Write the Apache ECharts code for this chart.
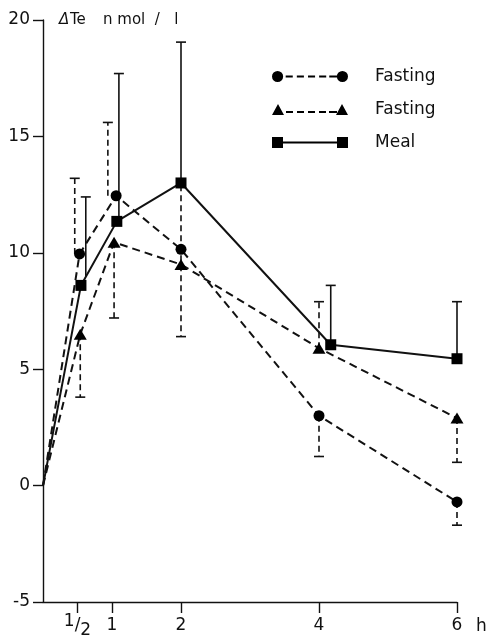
<!DOCTYPE html>
<html>
<head>
<meta charset="utf-8">
<script src="https://cdn.jsdelivr.net/npm/echarts@6/dist/echarts.min.js"></script>
<style>
html,body{margin:0;padding:0;background:#fff;}
#chart{width:488px;height:640px;}
</style>
</head>
<body>
<div id="chart"></div>
<script>
// ---- data (hours, nmol/l) ----
const xTickValues = [0.5, 1, 2, 4, 6];
const xTickLabels = ['1/2', '1', '2', '4', '6'];

const fast1X = [0, 0.53, 1.06, 2, 4, 6];
const fast1Y = [0, 9.95, 12.45, 10.15, 3.0, -0.7];
const fast1ErrX = [0.46, 0.94, 4, 6];
const fast1ErrFrom = [9.95, 12.45, 3.0, -0.7];
const fast1ErrTo = [13.2, 15.6, 1.25, -1.7];

const fast2X = [0, 0.54, 1.03, 2, 4, 6];
const fast2Y = [0, 6.5, 10.45, 9.5, 5.9, 2.9];
const fast2ErrX = [0.54, 1.03, 2, 4, 6];
const fast2ErrFrom = [6.5, 10.45, 12.9, 5.9, 2.9];
const fast2ErrTo = [3.8, 7.2, 6.4, 7.9, 1.0];

const mealX = [0, 0.55, 1.07, 2, 4.17, 6];
const mealY = [0, 8.6, 11.35, 13.0, 6.05, 5.45];
const mealErrX = [0.62, 1.1, 2, 4.17, 6];
const mealErrFrom = [9.0, 11.35, 13.0, 6.05, 5.45];
const mealErrTo = [12.4, 17.7, 19.05, 8.6, 7.9];

const seriesNames = ['Fasting', 'Fasting ', 'Meal'];

// ---- helpers ----
function pts(xs, ys) {
  return xs.map((x, i) => i === 0 ? { value: [x, ys[i]], symbol: 'none' } : [x, ys[i]]);
}
function errData(xs, from, to) {
  return xs.map((x, i) => [x, from[i], to[i]]);
}
function errSeries(data, dashed) {
  return {
    type: 'custom',
    data: data,
    z: 1,
    silent: true,
    encode: { x: 0, y: [1, 2] },
    renderItem: function (params, api) {
      const x = api.value(0);
      const p1 = api.coord([x, api.value(1)]);
      const p2 = api.coord([x, api.value(2)]);
      const cw = 5;
      return {
        type: 'group',
        children: [
          { type: 'line', shape: { x1: p1[0], y1: p1[1], x2: p2[0], y2: p2[1] },
            style: { stroke: '#111', lineWidth: 1.6, lineDash: dashed ? [6, 4] : null } },
          { type: 'line', shape: { x1: p2[0] - cw, y1: p2[1], x2: p2[0] + cw, y2: p2[1] },
            style: { stroke: '#111', lineWidth: 1.6 } }
        ]
      };
    }
  };
}

// legend icons (paths)
const dashes = 'M14,5 h7 v2 h-7 Z M25,5 h7 v2 h-7 Z M36,5 h7 v2 h-7 Z M47,5 h7 v2 h-7 Z M57,5 h8 v2 h-8 Z';
const iconCircle = 'path://M0.5,6 A5.5,5.5 0 1 1 11.5,6 A5.5,5.5 0 1 1 0.5,6 Z M64.5,6 A5.5,5.5 0 1 1 75.5,6 A5.5,5.5 0 1 1 64.5,6 Z ' + dashes;
const iconTri = 'path://M0,11.5 L6,0.5 L12,11.5 Z M64,11.5 L70,0.5 L76,11.5 Z M14,7.5 h7 v2 h-7 Z M25,7.5 h7 v2 h-7 Z M36,7.5 h7 v2 h-7 Z M47,7.5 h7 v2 h-7 Z M57,7.5 h8 v2 h-8 Z';
const iconSq = 'path://M0,0.5 h11 v11 h-11 Z M65,0.5 h11 v11 h-11 Z M11,5 h54 v2 h-54 Z';

const chart = echarts.init(document.getElementById('chart'), null, { renderer: 'canvas' });
const font = '"DejaVu Sans", sans-serif';

chart.setOption({
  animation: false,
  backgroundColor: '#fff',
  textStyle: { fontFamily: font, color: '#111' },
  grid: { left: 43, right: 31, top: 20, bottom: 38, outerBoundsMode: 'none', containLabel: false },
  legend: {
    orient: 'vertical',
    left: 267,
    top: 63,
    itemGap: 16,
    itemWidth: 76,
    itemHeight: 12,
    itemStyle: { borderWidth: 0, color: '#000' },
    textStyle: { fontFamily: font, fontSize: 17, color: '#111', padding: [0, 0, 0, 22] },
    formatter: n => n.trim(),
    selectedMode: false,
    data: [
      { name: seriesNames[0], icon: iconCircle },
      { name: seriesNames[1], icon: iconTri },
      { name: seriesNames[2], icon: iconSq }
    ]
  },
  xAxis: {
    type: 'value',
    min: 0,
    max: 6,
    splitLine: { show: false },
    axisLine: { onZero: false, lineStyle: { color: '#111', width: 1.4 } },
    axisTick: { customValues: xTickValues, length: 11, lineStyle: { color: '#111', width: 1.4 } },
    axisLabel: {
      customValues: xTickValues,
      margin: 11,
      fontSize: 17,
      lineHeight: 26,
      color: '#111',
      fontFamily: font,
      formatter: function (v) {
        const i = xTickValues.indexOf(v);
        const t = i >= 0 ? xTickLabels[i] : String(v);
        if (t === '1/2') return '{sup|1}{n|/}{sub|2}';
        return t;
      },
      rich: {
        sup: { fontSize: 17, lineHeight: 18, verticalAlign: 'top', fontFamily: font, color: '#111' },
        n: { fontSize: 17, fontFamily: font, color: '#111' },
        sub: { fontSize: 17, lineHeight: 20, verticalAlign: 'bottom', fontFamily: font, color: '#111' }
      }
    },
    name: 'h',
    nameLocation: 'end',
    nameGap: 19,
    nameTextStyle: { fontSize: 17, fontFamily: font, color: '#111', verticalAlign: 'top', align: 'left', padding: [16, 0, 0, 0] }
  },
  yAxis: {
    type: 'value',
    min: -5,
    max: 20,
    interval: 5,
    splitLine: { show: false },
    axisLine: { onZero: false, lineStyle: { color: '#111', width: 1.4 } },
    axisTick: { length: 10, lineStyle: { color: '#111', width: 1.4 } },
    axisLabel: { margin: 13, fontSize: 17, color: '#111', fontFamily: font },
    name: '{d|Δ}{t|Te}{u|n mol  /   l}',
    nameLocation: 'end',
    nameGap: 0,
    nameTextStyle: {
      align: 'left', verticalAlign: 'middle', padding: [0, 0, 0, 16],
      rich: {
        d: { fontSize: 15, fontStyle: 'italic', width: 11, fontFamily: font, color: '#111' },
        t: { fontSize: 15, width: 33, fontFamily: font, color: '#111' },
        u: { fontSize: 15, fontFamily: font, color: '#111' }
      }
    }
  },
  series: [
    errSeries(errData(fast1ErrX, fast1ErrFrom, fast1ErrTo), true),
    errSeries(errData(fast2ErrX, fast2ErrFrom, fast2ErrTo), true),
    errSeries(errData(mealErrX, mealErrFrom, mealErrTo), false),
    {
      name: seriesNames[0], type: 'line', z: 3,
      data: pts(fast1X, fast1Y),
      symbol: 'circle', symbolSize: 11,
      itemStyle: { color: '#000', borderWidth: 0 },
      lineStyle: { color: '#111', width: 2, type: [8, 5] }
    },
    {
      name: seriesNames[1], type: 'line', z: 3,
      data: pts(fast2X, fast2Y),
      symbol: 'triangle', symbolSize: [13, 11],
      itemStyle: { color: '#000', borderWidth: 0 },
      lineStyle: { color: '#111', width: 2, type: [8, 5] }
    },
    {
      name: seriesNames[2], type: 'line', z: 3,
      data: pts(mealX, mealY),
      symbol: 'rect', symbolSize: 11,
      itemStyle: { color: '#000', borderWidth: 0 },
      lineStyle: { color: '#111', width: 2 }
    }
  ]
});
</script>
</body>
</html>
